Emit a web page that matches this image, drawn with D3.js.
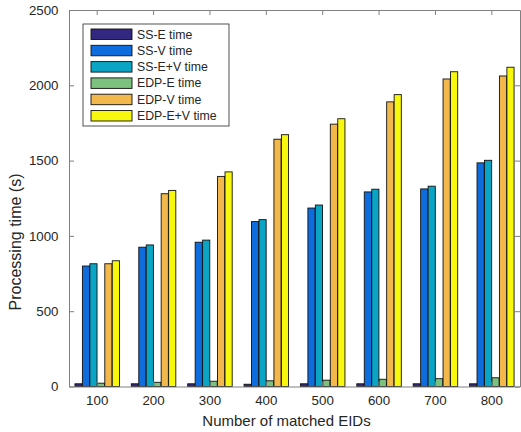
<!DOCTYPE html>
<html lang="en">
<head>
  <meta charset="UTF-8">
  <title>Processing time vs matched EIDs</title>
  <style>
    body { margin: 0; background: #fff; font-family: "Liberation Sans", Arial, sans-serif; }
    svg text { fill: #262626; }
  </style>
</head>
<body>
  <div id="chart"></div>
  <script src="https://d3js.org/d3.v7.min.js"></script>
  <script>
    const categories = ["100", "200", "300", "400", "500", "600", "700", "800"];
    const seriesNames = ["SS-E time", "SS-V time", "SS-E+V time", "EDP-E time", "EDP-V time", "EDP-E+V time"];
    const seriesColors = ["#33287f", "#0f6cdc", "#0aa5c4", "#7cc17d", "#f3b84b", "#f8f80f"];
    const ssE = [18, 18, 18, 15, 18, 18, 18, 18];
    const ssV = [800, 925, 958, 1095, 1185, 1292, 1312, 1485];
    const ssEV = [815, 940, 972, 1108, 1205, 1310, 1330, 1502];
    const edpE = [22, 28, 35, 38, 42, 48, 52, 58];
    const edpV = [815, 1280, 1395, 1642, 1742, 1890, 2042, 2062];
    const edpEV = [835, 1302, 1425, 1672, 1778, 1938, 2090, 2120];
    const yTicks = [0, 500, 1000, 1500, 2000, 2500];

    const series = [ssE, ssV, ssEV, edpE, edpV, edpEV];

    const width = 521, height = 432;
    const margin = { top: 10, right: 1, bottom: 45.5, left: 69 };
    const plotW = width - margin.left - margin.right;
    const plotH = height - margin.top - margin.bottom;

    const svg = d3.select("#chart").append("svg")
      .attr("width", width)
      .attr("height", height);

    const g = svg.append("g").attr("transform", `translate(${margin.left},${margin.top})`);

    // category axis spans 0.5 .. 8.5 like matlab
    const x0 = d3.scaleBand()
      .domain(categories)
      .range([0, plotW])
      .paddingInner(0.2)
      .paddingOuter(0.1);

    const x1 = d3.scaleBand()
      .domain(d3.range(seriesNames.length))
      .range([0, x0.bandwidth()])
      .padding(0.04);

    const y = d3.scaleLinear().domain([0, 2500]).range([plotH, 0]);

    // bars
    const groups = g.selectAll(".group")
      .data(categories)
      .enter().append("g")
      .attr("class", "group")
      .attr("transform", d => `translate(${x0(d)},0)`);

    groups.selectAll("rect")
      .data((d, i) => series.map((s, k) => ({ k: k, v: s[i] })))
      .enter().append("rect")
      .attr("x", d => x1(d.k))
      .attr("y", d => y(d.v))
      .attr("width", x1.bandwidth())
      .attr("height", d => plotH - y(d.v))
      .attr("fill", d => seriesColors[d.k])
      .attr("stroke", "#111")
      .attr("stroke-width", 0.9);

    // box + ticks
    const axisColor = "#808080";
    const tickLen = 5;

    const xAxis = d3.axisBottom(x0).tickSizeInner(-tickLen).tickSizeOuter(0).tickPadding(9);
    const gx = g.append("g").attr("transform", `translate(0,${plotH})`).call(xAxis);
    const xAxisTop = d3.axisTop(x0).tickSizeInner(-tickLen).tickSizeOuter(0).tickFormat("");
    const gxt = g.append("g").call(xAxisTop);

    const yAxis = d3.axisLeft(y).tickValues(yTicks).tickFormat(d3.format("d"))
      .tickSizeInner(-tickLen).tickSizeOuter(0).tickPadding(10.5);
    const gy = g.append("g").call(yAxis);
    const yAxisRight = d3.axisRight(y).tickValues(yTicks).tickSizeInner(-tickLen).tickSizeOuter(0).tickFormat("");
    const gyr = g.append("g").attr("transform", `translate(${plotW},0)`).call(yAxisRight);

    [gx, gxt, gy, gyr].forEach(a => {
      a.selectAll("path, line").attr("stroke", axisColor);
      a.selectAll("text")
        .attr("font-family", "'Liberation Sans', Arial, sans-serif")
        .attr("font-size", 13.3)
        .attr("fill", "#262626");
    });

    // axis labels
    svg.append("text")
      .attr("x", 286.5)
      .attr("y", 426)
      .attr("text-anchor", "middle")
      .attr("font-size", 15)
      .text("Number of matched EIDs");

    svg.append("text")
      .attr("transform", "translate(21,242) rotate(-90)")
      .attr("text-anchor", "middle")
      .attr("font-size", 16)
      .text("Processing time (s)");

    // legend
    const legend = svg.append("g").attr("transform", "translate(83,24)");
    legend.append("rect")
      .attr("width", 146)
      .attr("height", 102)
      .attr("fill", "#fff")
      .attr("stroke", "#262626")
      .attr("stroke-width", 0.8);

    const rows = legend.selectAll(".row")
      .data(seriesNames)
      .enter().append("g")
      .attr("class", "row")
      .attr("transform", (d, i) => `translate(8,${5 + i * 16.3})`);

    rows.append("rect")
      .attr("width", 41)
      .attr("height", 10.5)
      .attr("fill", (d, i) => seriesColors[i])
      .attr("stroke", "#111")
      .attr("stroke-width", 0.9);

    rows.append("text")
      .attr("x", 46)
      .attr("y", 9.5)
      .attr("font-size", 12.3)
      .text(d => d);
  </script>
</body>
</html>
